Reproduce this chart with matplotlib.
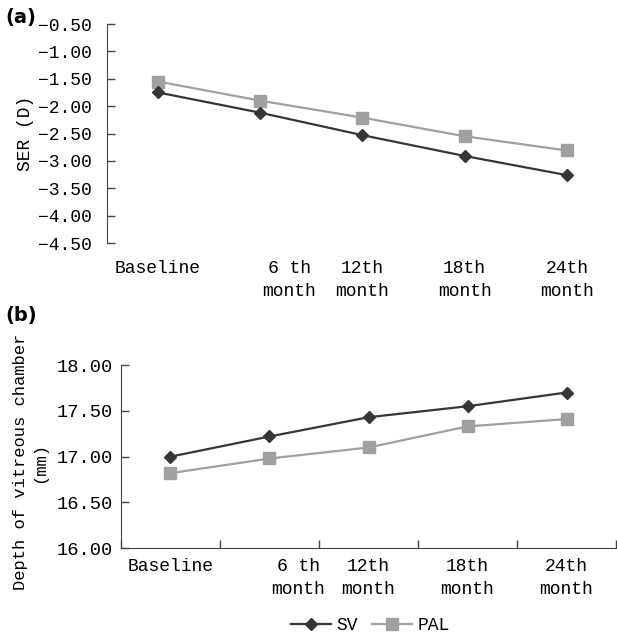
import numpy as np
import matplotlib
matplotlib.use('Agg')
import matplotlib.pyplot as plt
import matplotlib.transforms as mtransforms
from matplotlib.lines import Line2D

plt.rcParams['font.family'] = ['Liberation Mono', 'DejaVu Sans Mono']

# %% Data
months = ['Baseline', '6 th\nmonth', '12th\nmonth', '18th\nmonth', '24th\nmonth']
ser_sv = [-1.75, -2.12, -2.53, -2.91, -3.26]
ser_pal = [-1.55, -1.90, -2.21, -2.55, -2.81]
vc_sv = [17.00, 17.22, 17.43, 17.55, 17.70]
vc_pal = [16.82, 16.98, 17.10, 17.33, 17.41]
ser_ticks = [-0.5, -1.0, -1.5, -2.0, -2.5, -3.0, -3.5, -4.0, -4.5]
vc_ticks = [16.0, 16.5, 17.0, 17.5, 18.0]

sv_color = '#363636'
pal_color = '#a0a0a0'
axis_color = '#444444'


def fmt(v):
    return ('%.2f' % v).replace('-', '\u2212')


def draw_lines(ax, sv, pal):
    x = np.arange(len(sv))
    ax.plot(x, pal, color=pal_color, lw=1.6, marker='s', ms=8, mec=pal_color,
            mfc=pal_color, zorder=3)
    ax.plot(x, sv, color=sv_color, lw=1.6, marker='D', ms=6, mec=sv_color,
            mfc=sv_color, zorder=4)


def style_xlabels(ax, fig, pad):
    ax.set_xticks(np.arange(len(months)))
    ax.set_xticklabels(months, fontsize=13, linespacing=1.45)
    ax.tick_params(axis='x', length=0, pad=pad)
    # the '6 th month' label sits to the right of its point
    lab = ax.get_xticklabels()[1]
    lab.set_transform(lab.get_transform() +
                      mtransforms.ScaledTranslation(0.29, 0, fig.dpi_scale_trans))


fig = plt.figure(figsize=(6.17, 6.37), dpi=100)

# %% Panel (a)
ax1 = fig.add_axes([0.1734, 0.6185, 0.828, 0.3438])
draw_lines(ax1, ser_sv, ser_pal)
ax1.set_xlim(-0.5, 4.5)
ax1.set_ylim(-4.5, -0.5)
ax1.set_yticks(ser_ticks)
ax1.set_yticklabels([fmt(v) for v in ser_ticks], fontsize=13)
ax1.tick_params(axis='y', direction='in', length=6, width=1, color=axis_color,
                pad=11)
for s in ['top', 'right', 'bottom']:
    ax1.spines[s].set_visible(False)
ax1.spines['left'].set_color(axis_color)
style_xlabels(ax1, fig, 12)
ax1.set_ylabel('SER (D)', fontsize=13)
ax1.yaxis.set_label_coords(-0.142, 0.5)
fig.text(0.008, 0.972, '(a)', fontsize=14, fontweight='bold',
         family='DejaVu Sans', va='center')

# %% Panel (b)
ax2 = fig.add_axes([0.1961, 0.1392, 0.8023, 0.2878])
draw_lines(ax2, vc_sv, vc_pal)
ax2.set_xlim(-0.5, 4.5)
ax2.set_ylim(16.0, 18.0)
ax2.set_yticks(vc_ticks)
ax2.set_yticklabels([fmt(v) for v in vc_ticks], fontsize=13.5)
ax2.tick_params(axis='y', direction='in', length=6, width=1, color=axis_color,
                pad=5.5)
for s in ['top', 'right']:
    ax2.spines[s].set_visible(False)
ax2.spines['left'].set_color(axis_color)
ax2.spines['bottom'].set_color(axis_color)
style_xlabels(ax2, fig, 7)
ax2.set_xticks(np.arange(-0.5, 5.0, 1.0), minor=True)
ax2.tick_params(axis='x', which='minor', direction='in', length=6, width=1,
                color=axis_color)
ax2.set_ylabel('Depth of vitreous chamber\n(mm)', fontsize=12.3,
               linespacing=1.35)
ax2.yaxis.set_label_coords(-0.15, 0.47)
fig.text(0.008, 0.505, '(b)', fontsize=14, fontweight='bold',
         family='DejaVu Sans', va='center')

# %% Legend
handles = [Line2D([], [], color=sv_color, lw=1.6, marker='D', ms=6),
           Line2D([], [], color=pal_color, lw=1.6, marker='s', ms=8)]
fig.legend(handles, ['SV', 'PAL'], loc='center', bbox_to_anchor=(0.6, 0.018),
           ncol=2, frameon=False, fontsize=13, handlelength=2.2,
           handletextpad=0.3, columnspacing=0.8)

fig.savefig('out.png', dpi=100)
